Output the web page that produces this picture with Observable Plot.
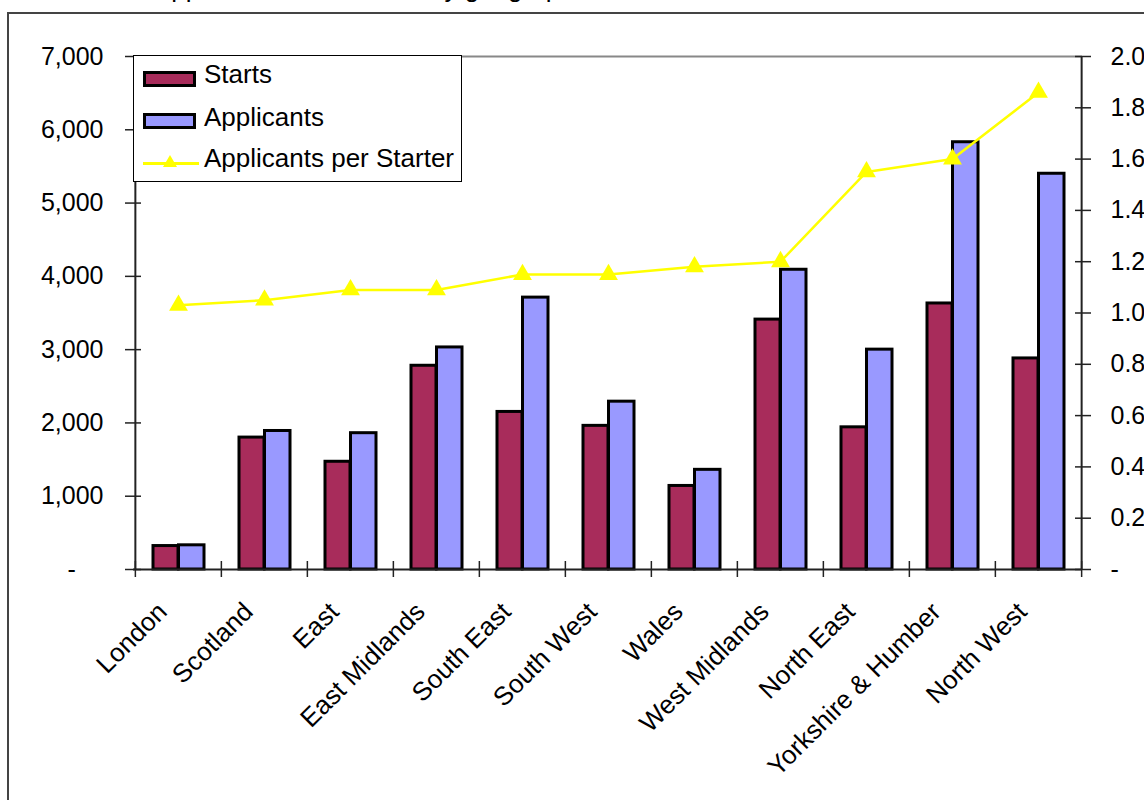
<!DOCTYPE html>
<html>
<head>
<meta charset="utf-8">
<script src="https://cdn.jsdelivr.net/npm/d3@7"></script>
<script src="https://cdn.jsdelivr.net/npm/@observablehq/plot@0.6"></script>
<style>
  html, body { margin: 0; padding: 0; background: #fff; overflow: hidden; }
  body { width: 1144px; height: 800px; position: relative; font-family: "Liberation Sans", Arial, sans-serif; }
  #frame { position: absolute; left: 7px; top: 12px; width: 1300px; height: 900px; border-left: 2px solid #444; border-top: 2px solid #444; }
  #title { position: absolute; left: 154px; top: -25px; font-size: 26px; line-height: 26px; white-space: nowrap; color: #000; }
  #chart { position: absolute; left: 0; top: 0; width: 1160px; }
  #chart svg { max-width: none !important; width: 1160px; height: 800px; }
  #legend { position: absolute; left: 133px; top: 55px; width: 329px; height: 127px; border: 1.5px solid #000; background: #fff; box-sizing: border-box; font-size: 26px; line-height: 26px; }
  #legend .sw { position: absolute; left: 9px; width: 53px; height: 16px; border: 3px solid #000; box-sizing: border-box; }
  #legend .lbl { position: absolute; left: 70px; white-space: nowrap; color: #000; }
  #legend .ln { position: absolute; left: 9px; top: 106px; width: 56px; height: 3px; background: #FFFF00; }
  #legend .tri { position: absolute; left: 29px; top: 99px; width: 0; height: 0; border-left: 7px solid transparent; border-right: 7px solid transparent; border-bottom: 12px solid #FFFF00; }
</style>
</head>
<body>
<div id="frame"></div>
<div id="title">Applicants and Starters by geographical area</div>
<div id="chart"></div>
<div id="legend">
  <div class="sw" style="top:15px;background:#A82C5B;"></div>
  <div class="lbl" style="top:5px;">Starts</div>
  <div class="sw" style="top:57px;background:#9999FF;"></div>
  <div class="lbl" style="top:48px;">Applicants</div>
  <div class="ln"></div>
  <div class="tri"></div>
  <div class="lbl" style="top:89px;">Applicants per Starter</div>
</div>
<script>
const regions = ["London", "Scotland", "East", "East Midlands", "South East", "South West", "Wales", "West Midlands", "North East", "Yorkshire & Humber", "North West"];
const starts = [320, 1800, 1470, 2780, 2150, 1960, 1140, 3410, 1940, 3630, 2880];
const applicants = [330, 1890, 1860, 3030, 3710, 2290, 1360, 4090, 3000, 5830, 5400];
const applicantsPerStarter = [1.03, 1.05, 1.09, 1.09, 1.15, 1.15, 1.18, 1.20, 1.55, 1.60, 1.86];
const leftTicks = [0, 1000, 2000, 3000, 4000, 5000, 6000, 7000];
const rightTicks = [0, 0.2, 0.4, 0.6, 0.8, 1.0, 1.2, 1.4, 1.6, 1.8, 2.0];

const rightMax = 2.0;
const leftMax = 7000;
const toLeft = v => v * leftMax / rightMax;

const table = regions.map((r, i) => ({region: r, starts: starts[i], applicants: applicants[i], ratio: applicantsPerStarter[i]}));

const W = 1160, H = 800, mL = 133, mR = 78, mT = 56, mB = 231;
const bw = (W - mL - mR) / regions.length;
const fs = 25;
const axisColor = "#222";

const chart = Plot.plot({
  width: W, height: H,
  marginLeft: mL, marginRight: mR, marginTop: mT, marginBottom: mB,
  style: {fontFamily: "'Liberation Sans', Arial, sans-serif", fontSize: fs + "px", color: "#000", background: "transparent", overflow: "visible", maxWidth: "none"},
  x: {type: "band", domain: regions, padding: 0, label: null},
  y: {domain: [0, leftMax], label: null},
  marks: [
    Plot.ruleY([leftMax], {stroke: "#888", strokeWidth: 2}),
    Plot.barY(table, {x: "region", y: "starts", fill: "#A82C5B", stroke: "#000", strokeWidth: 3, insetLeft: 18, insetRight: 43}),
    Plot.barY(table, {x: "region", y: "applicants", fill: "#9999FF", stroke: "#000", strokeWidth: 3, insetLeft: 43.5, insetRight: 17}),
    Plot.ruleY([0], {stroke: axisColor, strokeWidth: 2}),
    Plot.ruleX([regions[0]], {dx: -bw / 2, stroke: axisColor, strokeWidth: 2}),
    Plot.ruleX([regions[regions.length - 1]], {dx: bw / 2, stroke: axisColor, strokeWidth: 2}),
    Plot.axisY({anchor: "left", ticks: leftTicks, tickSize: 16, dx: 8, tickPadding: 22, fontSize: fs, stroke: axisColor, strokeWidth: 1.5, label: null,
      tickFormat: d => d === 0 ? "-\u00a0\u00a0\u00a0\u00a0" : d3.format(",")(d)}),
    Plot.axisY({anchor: "right", ticks: rightTicks.map(toLeft), tickSize: 16, dx: -8, tickPadding: 20, fontSize: fs, stroke: axisColor, strokeWidth: 1.5, label: null,
      tickFormat: d => d === 0 ? "-" : (d * rightMax / leftMax).toFixed(1)}),
    Plot.axisX({ticks: regions, tickSize: 16, dx: -bw / 2, dy: -8, stroke: axisColor, strokeWidth: 1.5, tickFormat: () => "", label: null}),
    Plot.axisX({ticks: [regions[regions.length - 1]], tickSize: 16, dx: bw / 2, dy: -8, stroke: axisColor, strokeWidth: 1.5, tickFormat: () => "", label: null}),
    Plot.axisX({ticks: regions, tickSize: 0, tickRotate: -45, tickPadding: 38, dx: -16, fontSize: 26, label: null}),
    Plot.line(table, {x: "region", y: d => toLeft(d.ratio), stroke: "#FFFF00", strokeWidth: 2.5}),
    Plot.dot(table, {x: "region", y: d => toLeft(d.ratio), symbol: "triangle", r: 7, fill: "#FFFF00", stroke: null})
  ]
});
document.getElementById("chart").appendChild(chart);
</script>
</body>
</html>
